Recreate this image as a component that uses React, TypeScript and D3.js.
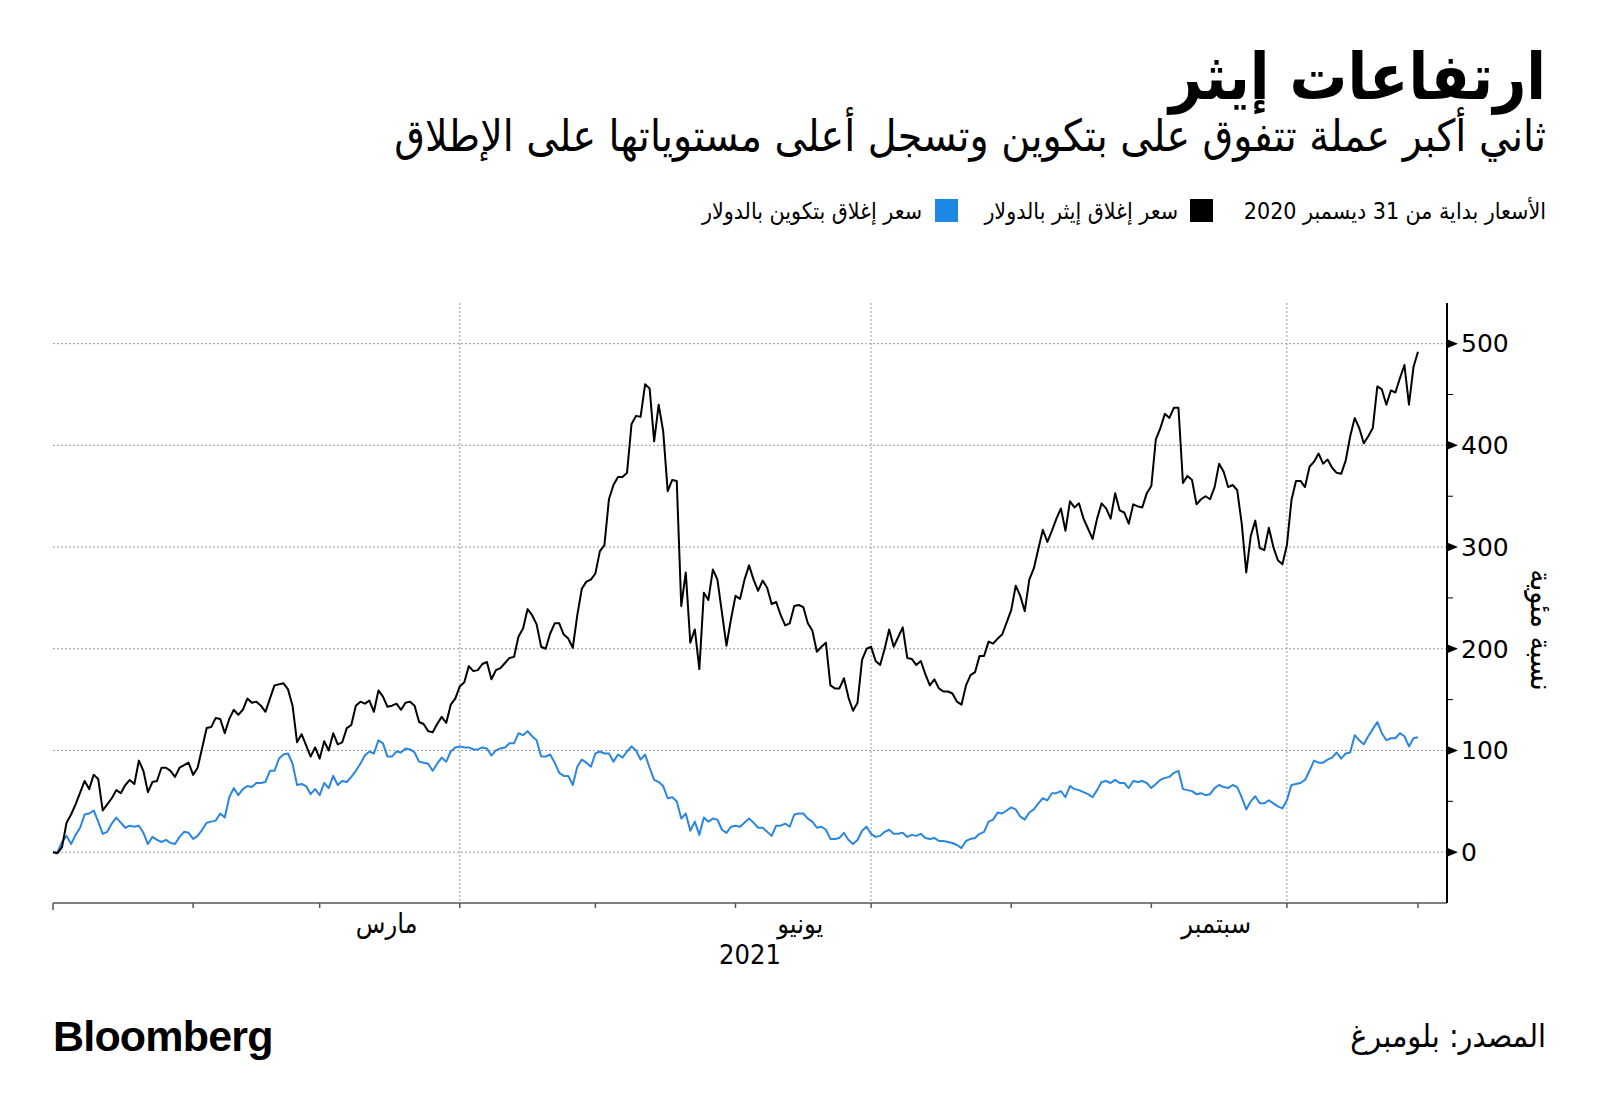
import React from "react";
import * as d3 from "d3";

// day offsets from 1 Jan 2021 (first point is the 31 Dec 2020 base), % change
const ethDays = [
  0, 1, 2, 3, 4, 5, 7, 8, 9, 10, 11, 12, 13, 14, 15, 16, 17, 18, 19, 20,
  21, 22, 23, 24, 25, 26, 27, 28, 30, 31, 32, 34, 35, 36, 37, 38, 39, 40, 41, 42,
  43, 44, 45, 46, 47, 48, 49, 51, 52, 53, 54, 55, 56, 57, 58, 59, 60, 61, 62, 63,
  64, 65, 66, 67, 68, 69, 70, 71, 72, 73, 74, 75, 76, 77, 78, 79, 80, 81, 82, 83,
  84, 85, 86, 87, 88, 89, 90, 91, 92, 93, 94, 95, 96, 97, 98, 99, 100, 101, 102, 103,
  104, 105, 106, 107, 108, 109, 110, 111, 112, 113, 114, 115, 116, 117, 118, 119, 120, 121, 122, 123,
  124, 125, 126, 127, 128, 129, 130, 131, 132, 133, 134, 135, 136, 137, 138, 139, 140, 141, 142, 143,
  144, 145, 146, 147, 149, 150, 151, 152, 153, 154, 155, 156, 157, 158, 159, 160, 161, 162, 163, 164,
  165, 166, 167, 168, 169, 170, 171, 172, 173, 174, 175, 176, 177, 178, 179, 180, 181, 182, 183, 184,
  185, 186, 188, 189, 190, 191, 192, 193, 194, 195, 196, 197, 198, 199, 200, 201, 202, 203, 204, 205,
  206, 207, 208, 209, 210, 211, 212, 213, 214, 215, 216, 217, 218, 219, 220, 221, 222, 223, 224, 225,
  226, 227, 228, 229, 230, 231, 232, 233, 234, 235, 236, 237, 238, 239, 240, 241, 242, 243, 244, 245,
  246, 247, 248, 249, 250, 251, 252, 253, 254, 255, 256, 257, 258, 259, 260, 261, 262, 263, 264, 265,
  266, 267, 268, 269, 270, 271, 272, 273, 274, 275, 276, 277, 278, 279, 280, 281, 282, 283, 284, 285,
  286, 287, 288, 289, 290, 291, 292, 293, 294, 295, 296, 297, 298, 299, 300, 301, 302,
];
const ethPct = [
  0, -1, 5, 29, 37, 47, 70, 62, 76, 72, 41, 47, 53, 61, 58, 66, 71, 67, 90, 80,
  59, 69, 70, 83, 83, 80, 74, 83, 88, 76, 83, 122, 123, 132, 131, 117, 131, 140, 135, 140,
  151, 147, 148, 144, 138, 151, 164, 166, 160, 144, 108, 116, 105, 94, 103, 92, 109, 100, 117, 106,
  108, 122, 125, 144, 148, 146, 149, 138, 159, 153, 143, 144, 146, 140, 147, 148, 144, 128, 126, 119,
  118, 126, 133, 127, 145, 151, 163, 167, 183, 178, 179, 185, 187, 170, 179, 181, 186, 191, 192, 212,
  220, 239, 233, 224, 202, 200, 215, 225, 225, 214, 210, 201, 233, 259, 266, 268, 274, 296, 302, 347,
  361, 369, 369, 373, 421, 429, 428, 460, 456, 404, 440, 414, 355, 366, 365, 242, 275, 206, 219, 180,
  255, 248, 278, 268, 203, 229, 252, 249, 268, 282, 268, 257, 267, 260, 244, 246, 233, 223, 225, 242,
  243, 241, 225, 218, 197, 202, 206, 164, 161, 161, 171, 152, 139, 147, 189, 200, 202, 188, 184, 200,
  219, 202, 221, 191, 190, 184, 188, 175, 164, 170, 161, 158, 158, 156, 148, 145, 164, 174, 177, 193,
  193, 207, 205, 210, 214, 226, 238, 262, 252, 237, 268, 279, 298, 317, 305, 316, 328, 338, 316, 345,
  339, 343, 328, 318, 308, 328, 343, 338, 328, 353, 336, 334, 323, 342, 340, 339, 353, 360, 406, 417,
  431, 427, 437, 437, 363, 370, 366, 342, 347, 350, 347, 359, 382, 374, 359, 361, 356, 323, 275, 311,
  326, 299, 297, 319, 300, 287, 283, 302, 346, 365, 365, 359, 379, 384, 392, 382, 386, 378, 373, 372,
  385, 409, 427, 417, 402, 409, 417, 458, 455, 440, 454, 452, 466, 479, 440, 477, 492,
];

const btcDays = [
  0, 1, 2, 3, 4, 5, 6, 7, 8, 9, 10, 11, 12, 13, 14, 15, 16, 17, 18, 19,
  20, 21, 22, 23, 24, 25, 26, 27, 28, 29, 30, 31, 32, 33, 34, 35, 36, 37, 38, 39,
  40, 41, 42, 43, 44, 45, 46, 47, 48, 49, 50, 51, 52, 53, 54, 55, 56, 57, 58, 59,
  60, 61, 62, 63, 64, 65, 66, 67, 68, 69, 70, 71, 72, 73, 74, 75, 76, 77, 78, 79,
  80, 81, 82, 83, 84, 85, 86, 87, 88, 89, 90, 91, 92, 93, 94, 95, 96, 97, 98, 99,
  100, 101, 102, 103, 104, 105, 106, 107, 108, 109, 110, 111, 112, 113, 114, 115, 116, 117, 118, 119,
  120, 121, 122, 123, 124, 125, 126, 127, 128, 129, 130, 131, 132, 133, 134, 135, 136, 137, 138, 139,
  140, 141, 142, 143, 144, 145, 146, 147, 148, 149, 150, 151, 152, 154, 155, 156, 157, 158, 159, 160,
  161, 162, 163, 164, 165, 166, 167, 168, 169, 170, 171, 172, 173, 174, 175, 176, 177, 178, 179, 180,
  181, 182, 183, 184, 185, 186, 187, 188, 189, 190, 191, 192, 193, 194, 195, 196, 197, 198, 199, 200,
  201, 202, 203, 204, 205, 206, 207, 208, 209, 210, 211, 212, 213, 214, 215, 216, 217, 218, 219, 220,
  221, 222, 223, 224, 225, 226, 227, 228, 229, 230, 231, 232, 233, 234, 235, 236, 237, 238, 239, 240,
  241, 242, 243, 244, 245, 246, 247, 248, 249, 250, 251, 252, 253, 254, 255, 256, 257, 258, 259, 260,
  261, 262, 263, 264, 265, 266, 267, 268, 269, 270, 271, 272, 273, 274, 275, 276, 277, 278, 279, 280,
  281, 282, 283, 284, 285, 286, 287, 288, 289, 290, 291, 292, 293, 294, 295, 296, 297, 298, 299, 300,
  301, 302,
];
const btcPct = [
  0, 0, 10, 16, 8, 17, 24, 37, 38, 41, 30, 18, 20, 28, 34, 29, 24, 26, 25, 26,
  19, 8, 15, 12, 10, 12, 9, 8, 15, 20, 19, 13, 16, 22, 29, 30, 31, 38, 34, 54,
  63, 56, 62, 65, 64, 68, 68, 69, 80, 80, 92, 96, 97, 87, 66, 67, 65, 57, 62, 56,
  68, 63, 75, 66, 70, 69, 74, 80, 87, 95, 99, 97, 110, 107, 94, 94, 99, 98, 102, 101,
  98, 89, 88, 87, 80, 87, 93, 89, 99, 103, 104, 103, 103, 101, 101, 103, 102, 95, 100, 102,
  103, 107, 107, 117, 115, 119, 114, 110, 94, 94, 96, 88, 78, 75, 75, 66, 84, 91, 88, 84,
  97, 99, 97, 97, 89, 96, 93, 99, 104, 100, 91, 96, 83, 71, 69, 65, 53, 54, 50, 33,
  38, 21, 30, 17, 34, 30, 33, 32, 22, 19, 25, 26, 25, 33, 29, 24, 24, 20, 16, 26,
  26, 28, 25, 37, 38, 38, 33, 30, 24, 25, 22, 13, 13, 14, 19, 12, 8, 12, 21, 25,
  18, 15, 16, 20, 22, 18, 18, 19, 15, 17, 16, 18, 14, 13, 14, 11, 11, 10, 9, 7,
  4, 11, 13, 14, 18, 20, 30, 32, 39, 38, 41, 44, 42, 35, 32, 39, 42, 48, 53, 51,
  58, 58, 60, 54, 65, 62, 61, 59, 57, 54, 61, 69, 70, 68, 71, 68, 68, 63, 70, 69,
  70, 68, 63, 67, 71, 73, 74, 78, 80, 62, 61, 60, 57, 58, 56, 57, 63, 66, 64, 63,
  66, 64, 54, 42, 50, 55, 48, 48, 51, 48, 45, 43, 51, 66, 67, 68, 71, 80, 90, 88,
  88, 91, 93, 98, 92, 97, 98, 115, 110, 106, 114, 121, 128, 117, 110, 112, 112, 117, 114, 104,
  112, 113,
];

const yTicks = [0, 100, 200, 300, 400, 500];
const yMinorTicks = [50, 150, 250, 350, 450];
const monthNames = ["مارس", "يونيو", "سبتمبر"];
const monthIndex = [2, 5, 8];
const gridMonthIndex = [3, 6, 9];

const AR = "'DejaVu Sans Condensed', 'DejaVu Sans', sans-serif";
const BLUE = "#2a86de";

const start = new Date(2021, 0, 1);
const toDate = (d: number) => d3.timeDay.offset(start, d);

const x = d3.scaleTime().domain([start, new Date(2021, 10, 5, 10)]).range([53, 1447]);
const y = d3.scaleLinear().domain([-50, 540]).range([903, 303]);

const line = d3
  .line<[Date, number]>()
  .x((d) => x(d[0]))
  .y((d) => y(d[1]));

const App = () => {
  const eth = ethDays.map((d, i) => [toDate(d), ethPct[i]] as [Date, number]);
  const btc = btcDays.map((d, i) => [toDate(d), btcPct[i]] as [Date, number]);
  const lastDate = toDate(ethDays[ethDays.length - 1]);
  const xTicks = [...d3.timeMonth.range(start, new Date(2021, 9, 2)), lastDate];
  const [x0, x1] = x.range();
  const [yBottom, yTop] = y.range();

  return (
    <svg
      width={1600}
      height={1116}
      style={{ position: "absolute", left: 0, top: 0, background: "#fff" }}
    >
      <rect width={1600} height={1116} fill="#fff" />

      <text x={1546} y={99} textAnchor="end" fontFamily={AR} fontWeight="bold" fontSize={64} fill="#000">
        ارتفاعات إيثر
      </text>
      <text x={1546} y={151} textAnchor="end" fontFamily={AR} fontSize={44} fill="#000">
        ثاني أكبر عملة تتفوق على بتكوين وتسجل أعلى مستوياتها على الإطلاق
      </text>

      {/* legend */}
      <g fontFamily={AR} fontSize={23} fill="#000">
        <text x={1546} y={219} textAnchor="end">الأسعار بداية من 31 ديسمبر 2020</text>
        <rect x={1190} y={199} width={23} height={23} fill="#000" />
        <text x={1178} y={219} textAnchor="end">سعر إغلاق إيثر بالدولار</text>
        <rect x={935} y={199} width={23} height={23} fill="#1e88e5" />
        <text x={922} y={219} textAnchor="end">سعر إغلاق بتكوين بالدولار</text>
      </g>

      {/* grid */}
      <g stroke="#9a9a9a" strokeWidth={1} strokeDasharray="2,2">
        {yTicks.map((t) => (
          <line key={t} x1={x0} x2={x1} y1={y(t)} y2={y(t)} />
        ))}
        {gridMonthIndex.map((m) => (
          <line key={m} x1={x(new Date(2021, m, 1))} x2={x(new Date(2021, m, 1))} y1={yTop} y2={yBottom} />
        ))}
      </g>

      <path d={line(btc) || ""} fill="none" stroke={BLUE} strokeWidth={2} strokeLinejoin="round" />
      <path d={line(eth) || ""} fill="none" stroke="#000" strokeWidth={2} strokeLinejoin="round" />

      {/* x axis */}
      <line x1={x0} x2={x1} y1={yBottom} y2={yBottom} stroke="#555" strokeWidth={1.5} />
      {xTicks.map((t, i) => (
        <line key={i} x1={x(t)} x2={x(t)} y1={yBottom} y2={yBottom + (i === 0 ? 7 : 5)} stroke="#555" strokeWidth={1.5} />
      ))}
      <g fontFamily={AR} fontSize={27} fill="#000" textAnchor="middle">
        {monthIndex.map((m, i) => {
          const mid = new Date((+new Date(2021, m, 1) + +new Date(2021, m + 1, 1)) / 2);
          return (
            <text key={m} x={x(mid) - 3} y={933}>
              {monthNames[i]}
            </text>
          );
        })}
        <text x={(x0 + x1) / 2} y={964}>2021</text>
      </g>

      {/* y axis */}
      <line x1={x1} x2={x1} y1={yTop} y2={yBottom} stroke="#000" strokeWidth={2} />
      {yMinorTicks.map((t) => (
        <line key={t} x1={x1} x2={x1 + 6} y1={y(t)} y2={y(t)} stroke="#000" strokeWidth={1} />
      ))}
      {yTicks.map((t) => (
        <g key={t}>
          <path d={`M${x1},${y(t) - 4.5}L${x1 + 11},${y(t)}L${x1},${y(t) + 4.5}Z`} fill="#000" />
          <text x={x1 + 14} y={y(t)} dy="0.35em" fontFamily="'DejaVu Sans', sans-serif" fontSize={25} fill="#000">
            {t}
          </text>
        </g>
      ))}
      <text
        transform="translate(1541,630) rotate(90)"
        textAnchor="middle"
        dy="0.35em"
        fontFamily={AR}
        fontSize={30}
        fill="#000"
      >
        نسبة مئوية
      </text>

      {/* footer */}
      <text x={53} y={1051} fontFamily="'Liberation Sans', Arial, sans-serif" fontWeight="bold" fontSize={43} letterSpacing={-0.8} fill="#000">
        Bloomberg
      </text>
      <text x={1546} y={1047} textAnchor="end" fontFamily={AR} fontSize={32} fill="#000">
        المصدر: بلومبرغ
      </text>
    </svg>
  );
};

export default App;
